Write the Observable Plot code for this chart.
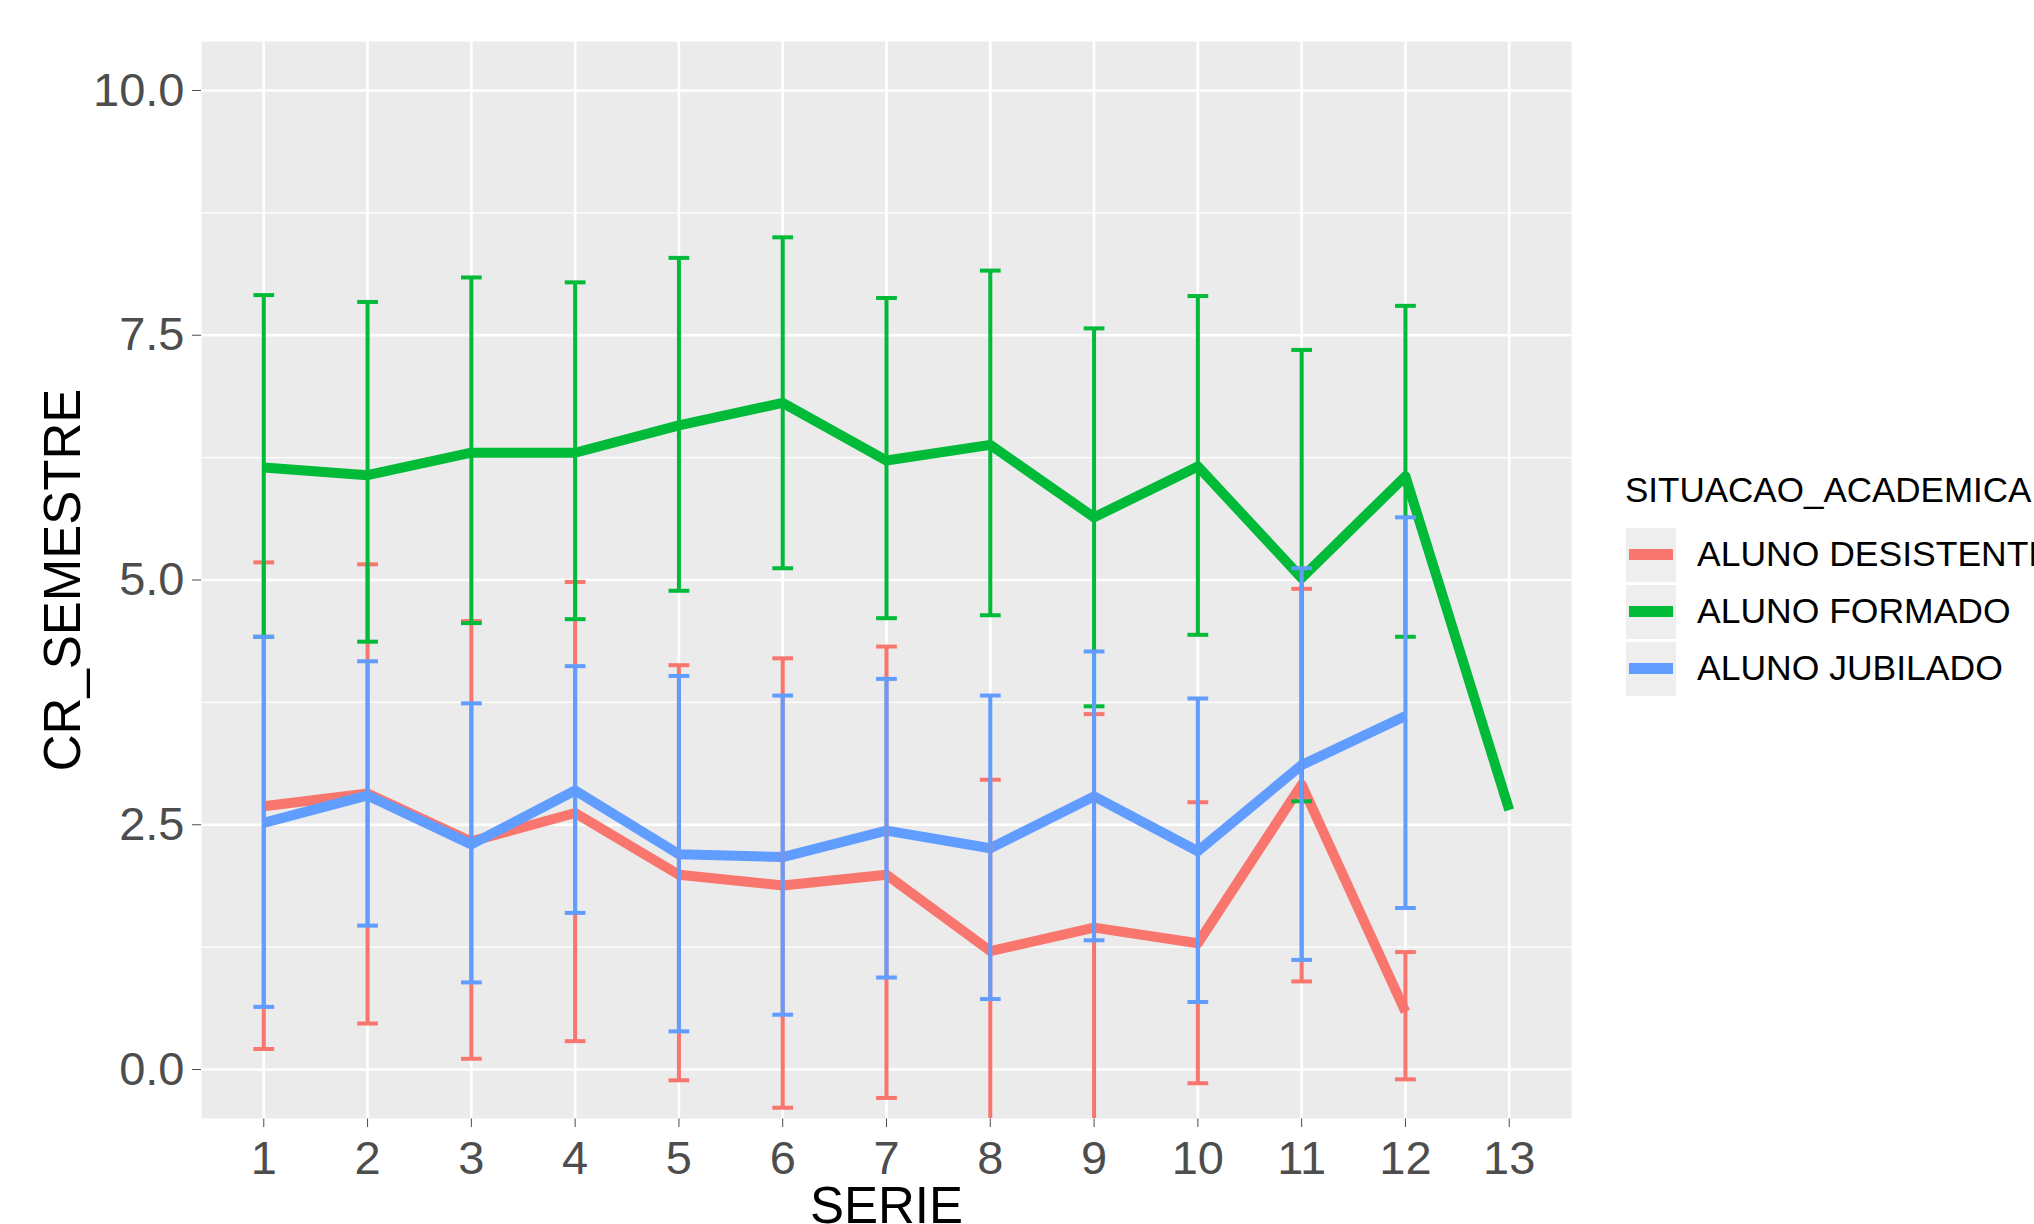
<!DOCTYPE html>
<html>
<head>
<meta charset="utf-8">
<script src="https://cdn.jsdelivr.net/npm/d3@7"></script>
<script src="https://cdn.jsdelivr.net/npm/@observablehq/plot@0.6"></script>
<style>
  html, body { margin: 0; padding: 0; background: #ffffff; }
  body { width: 2034px; height: 1224px; overflow: hidden; position: relative; font-family: "Liberation Sans", Arial, sans-serif; }
  #chart { position: absolute; left: 0; top: 0; }
  #legend { position: absolute; left: 1625px; top: 470px; white-space: nowrap; color: #000; }
  #legend .title { font-size: 35px; line-height: 40px; margin-bottom: 16px; }
  #legend .row { display: flex; align-items: center; height: 57px; }
  #legend .key { width: 52px; height: 56px; background: #EEEEEE; border: 1px solid #ffffff; box-sizing: border-box; display: flex; align-items: center; justify-content: center; }
  #legend .key span { display: block; width: 44px; height: 10.5px; }
  #legend .label { font-size: 35.5px; margin-left: 20px; }
</style>
</head>
<body>
<div id="chart"></div>
<div id="legend"></div>
<script>
// ---- data ----
const serie = [1, 2, 3, 4, 5, 6, 7, 8, 9, 10, 11, 12, 13];
const grupos = ["ALUNO DESISTENTE", "ALUNO FORMADO", "ALUNO JUBILADO"];
const cores = ["#F8766D", "#00BA38", "#619CFF"];
const legendTitle = "SITUACAO_ACADEMICA";

// ALUNO DESISTENTE (series 1..12)
const desistenteMedia = [2.69, 2.82, 2.33, 2.62, 1.99, 1.88, 1.99, 1.21, 1.45, 1.29, 2.91, 0.59];
const desistenteInf   = [0.21, 0.47, 0.11, 0.29, -0.11, -0.39, -0.29, -0.54, -0.73, -0.14, 0.90, -0.10];
const desistenteSup   = [5.18, 5.16, 4.58, 4.98, 4.13, 4.20, 4.32, 2.96, 3.63, 2.73, 4.91, 1.20];

// ALUNO FORMADO (series 1..13, no bar at 13)
const formadoMedia = [6.15, 6.07, 6.30, 6.30, 6.58, 6.81, 6.22, 6.38, 5.64, 6.16, 5.02, 6.06, 2.65];
const formadoInf   = [4.42, 4.37, 4.56, 4.60, 4.89, 5.12, 4.61, 4.64, 3.71, 4.44, 2.74, 4.42, null];
const formadoSup   = [7.91, 7.84, 8.09, 8.04, 8.29, 8.50, 7.88, 8.16, 7.57, 7.90, 7.35, 7.80, null];

// ALUNO JUBILADO (series 1..12)
const jubiladoMedia = [2.52, 2.80, 2.30, 2.85, 2.20, 2.17, 2.44, 2.26, 2.79, 2.23, 3.11, 3.61];
const jubiladoInf   = [0.64, 1.47, 0.89, 1.60, 0.39, 0.56, 0.94, 0.72, 1.32, 0.69, 1.12, 1.65];
const jubiladoSup   = [4.42, 4.17, 3.74, 4.12, 4.02, 3.82, 3.99, 3.82, 4.27, 3.79, 5.12, 5.64];

const yTicks = [0, 2.5, 5, 7.5, 10];
const yMinor = [1.25, 3.75, 6.25, 8.75];
const xLabel = "SERIE";
const yLabel = "CR_SEMESTRE";

// ---- table ----
const series = [
  [grupos[0], desistenteMedia, desistenteInf, desistenteSup],
  [grupos[1], formadoMedia, formadoInf, formadoSup],
  [grupos[2], jubiladoMedia, jubiladoInf, jubiladoSup]
];
const rows = [];
for (const [g, m, lo, hi] of series) {
  m.forEach((v, i) => rows.push({grupo: g, serie: serie[i], media: v, inf: lo[i], sup: hi[i]}));
}

const capHalf = 0.1;
const barWidth = 4;
const errorMarks = [];
for (const g of grupos) {
  const rg = rows.filter(d => d.grupo === g && d.inf != null && d.sup != null);
  errorMarks.push(
    Plot.ruleX(rg, {x: "serie", y1: "inf", y2: "sup", stroke: "grupo", strokeWidth: barWidth, clip: true}),
    Plot.link(rg, {x1: d => d.serie - capHalf, x2: d => d.serie + capHalf, y1: "sup", y2: "sup", stroke: "grupo", strokeWidth: barWidth, clip: true}),
    Plot.link(rg, {x1: d => d.serie - capHalf, x2: d => d.serie + capHalf, y1: "inf", y2: "inf", stroke: "grupo", strokeWidth: barWidth, clip: true})
  );
}

const chart = Plot.plot({
  width: 2034,
  height: 1224,
  marginLeft: 201,
  marginRight: 463,
  marginTop: 41,
  marginBottom: 106,
  style: {fontFamily: "'Liberation Sans', Arial, sans-serif", fontSize: "47px", color: "#4D4D4D", background: "transparent", overflow: "visible"},
  x: {domain: [0.4, 13.6], ticks: serie, tickFormat: d => String(d), tickSize: 9, tickPadding: 13, label: null},
  y: {domain: [-0.5, 10.5], ticks: yTicks, tickFormat: d3.format(".1f"), tickSize: 9, tickPadding: 8, label: null},
  color: {domain: grupos, range: cores},
  marks: [
    Plot.frame({fill: "#EBEBEB", stroke: null}),
    Plot.ruleY(yMinor, {stroke: "#ffffff", strokeWidth: 1.3}),
    Plot.ruleY(yTicks, {stroke: "#ffffff", strokeWidth: 2.6}),
    Plot.ruleX(serie, {stroke: "#ffffff", strokeWidth: 2.6}),
    Plot.line(rows, {x: "serie", y: "media", stroke: "grupo", z: "grupo", strokeWidth: 10, strokeLinecap: "butt", strokeLinejoin: "round", clip: true}),
    ...errorMarks,
    Plot.text([yLabel], {text: d => d, frameAnchor: "left", dx: -122, rotate: -90, lineAnchor: "bottom", textAnchor: "middle", fontSize: 51, fill: "#000000"}),
    Plot.text([xLabel], {text: d => d, frameAnchor: "bottom", dy: 68, lineAnchor: "top", textAnchor: "middle", fontSize: 51, fill: "#000000"})
  ]
});
document.getElementById("chart").appendChild(chart);

// ---- legend ----
const legend = document.getElementById("legend");
const t = document.createElement("div");
t.className = "title";
t.textContent = legendTitle;
legend.appendChild(t);
grupos.forEach((g, i) => {
  const r = document.createElement("div");
  r.className = "row";
  const k = document.createElement("div");
  k.className = "key";
  const s = document.createElement("span");
  s.style.background = cores[i];
  k.appendChild(s);
  const l = document.createElement("div");
  l.className = "label";
  l.textContent = g;
  r.appendChild(k);
  r.appendChild(l);
  legend.appendChild(r);
});
</script>
</body>
</html>
